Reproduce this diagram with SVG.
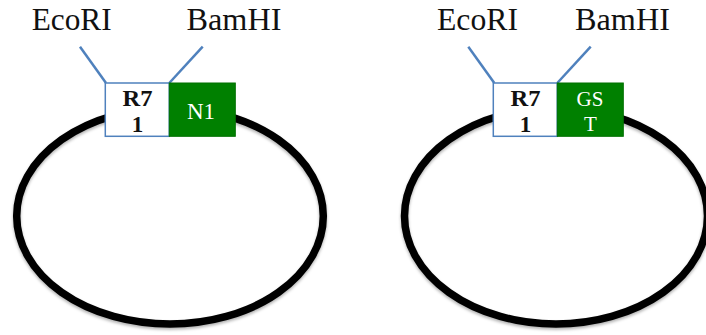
<svg xmlns="http://www.w3.org/2000/svg" width="706" height="335" viewBox="0 0 706 335">
  <style>
    .ring { fill: none; stroke: #000; stroke-width: 7.5; filter: url(#soft); }
    .site { stroke: #4F81BD; stroke-width: 2.5; fill: none; }
    .promoter { fill: #fff; stroke: #4F81BD; stroke-width: 1.5; }
    .gene { fill: #008000; stroke: #007000; stroke-width: 1; }
    .enzyme { font-family: "Liberation Serif", "DejaVu Serif", serif; font-size: 31px; fill: #111; text-anchor: middle; }
    .plabel { font-family: "Liberation Serif", "DejaVu Serif", serif; font-size: 23px; font-weight: bold; fill: #111; text-anchor: middle; }
    .glabel { font-family: "Liberation Serif", "DejaVu Serif", serif; font-size: 21px; fill: #fff; text-anchor: middle; }
  </style>
  <defs>
    <filter id="soft" x="-10%" y="-10%" width="120%" height="125%">
      <feDropShadow dx="0" dy="2" stdDeviation="1.5" flood-color="#000" flood-opacity="0.3"/>
    </filter>
  </defs>
  <rect width="706" height="335" fill="#fff"/>

  <!-- plasmid backbones -->
  <g id="plasmid-n1">
    <ellipse class="ring" cx="170" cy="216" rx="153.3" ry="108"/>
  </g>
  <g id="plasmid-gst">
    <ellipse class="ring" cx="556" cy="216" rx="151.5" ry="108"/>
  </g>

  <!-- restriction site pointers -->
  <g id="connectors">
    <line class="site" x1="80" y1="46.7" x2="106" y2="83"/>
    <line class="site" x1="202.7" y1="46.7" x2="169.3" y2="83"/>
    <line class="site" x1="468.3" y1="46.7" x2="494.3" y2="83"/>
    <line class="site" x1="590.7" y1="46.7" x2="557.3" y2="83"/>
  </g>

  <!-- inserts: promoter + gene -->
  <g id="promoter-left">
    <rect class="promoter" x="105.3" y="83" width="64" height="53.3"/>
    <text class="plabel" x="137.5" y="105.5" textLength="30" lengthAdjust="spacingAndGlyphs">R7</text>
    <text class="plabel" x="137.5" y="132.3">1</text>
  </g>
  <g id="gene-n1">
    <rect class="gene" x="169.3" y="83" width="66" height="53.3"/>
    <text class="glabel" x="201" y="118.5" style="font-size:23px">N1</text>
  </g>
  <g id="promoter-right">
    <rect class="promoter" x="493.3" y="83" width="64" height="53.3"/>
    <text class="plabel" x="525.5" y="105.5" textLength="30" lengthAdjust="spacingAndGlyphs">R7</text>
    <text class="plabel" x="525.5" y="132.3">1</text>
  </g>
  <g id="gene-gst">
    <rect class="gene" x="557.3" y="83" width="66" height="53.3"/>
    <text class="glabel" x="590" y="106.3">GS</text>
    <text class="glabel" x="590.5" y="131.3">T</text>
  </g>

  <!-- enzyme labels -->
  <g id="label-ecori-left"><text class="enzyme" x="71.7" y="29.5" textLength="80" lengthAdjust="spacingAndGlyphs">EcoRI</text></g>
  <g id="label-bamhi-left"><text class="enzyme" x="234" y="29.5" textLength="95" lengthAdjust="spacingAndGlyphs">BamHI</text></g>
  <g id="label-ecori-right"><text class="enzyme" x="477.5" y="29.5" textLength="81" lengthAdjust="spacingAndGlyphs">EcoRI</text></g>
  <g id="label-bamhi-right"><text class="enzyme" x="622.5" y="29.5" textLength="95" lengthAdjust="spacingAndGlyphs">BamHI</text></g>
</svg>
